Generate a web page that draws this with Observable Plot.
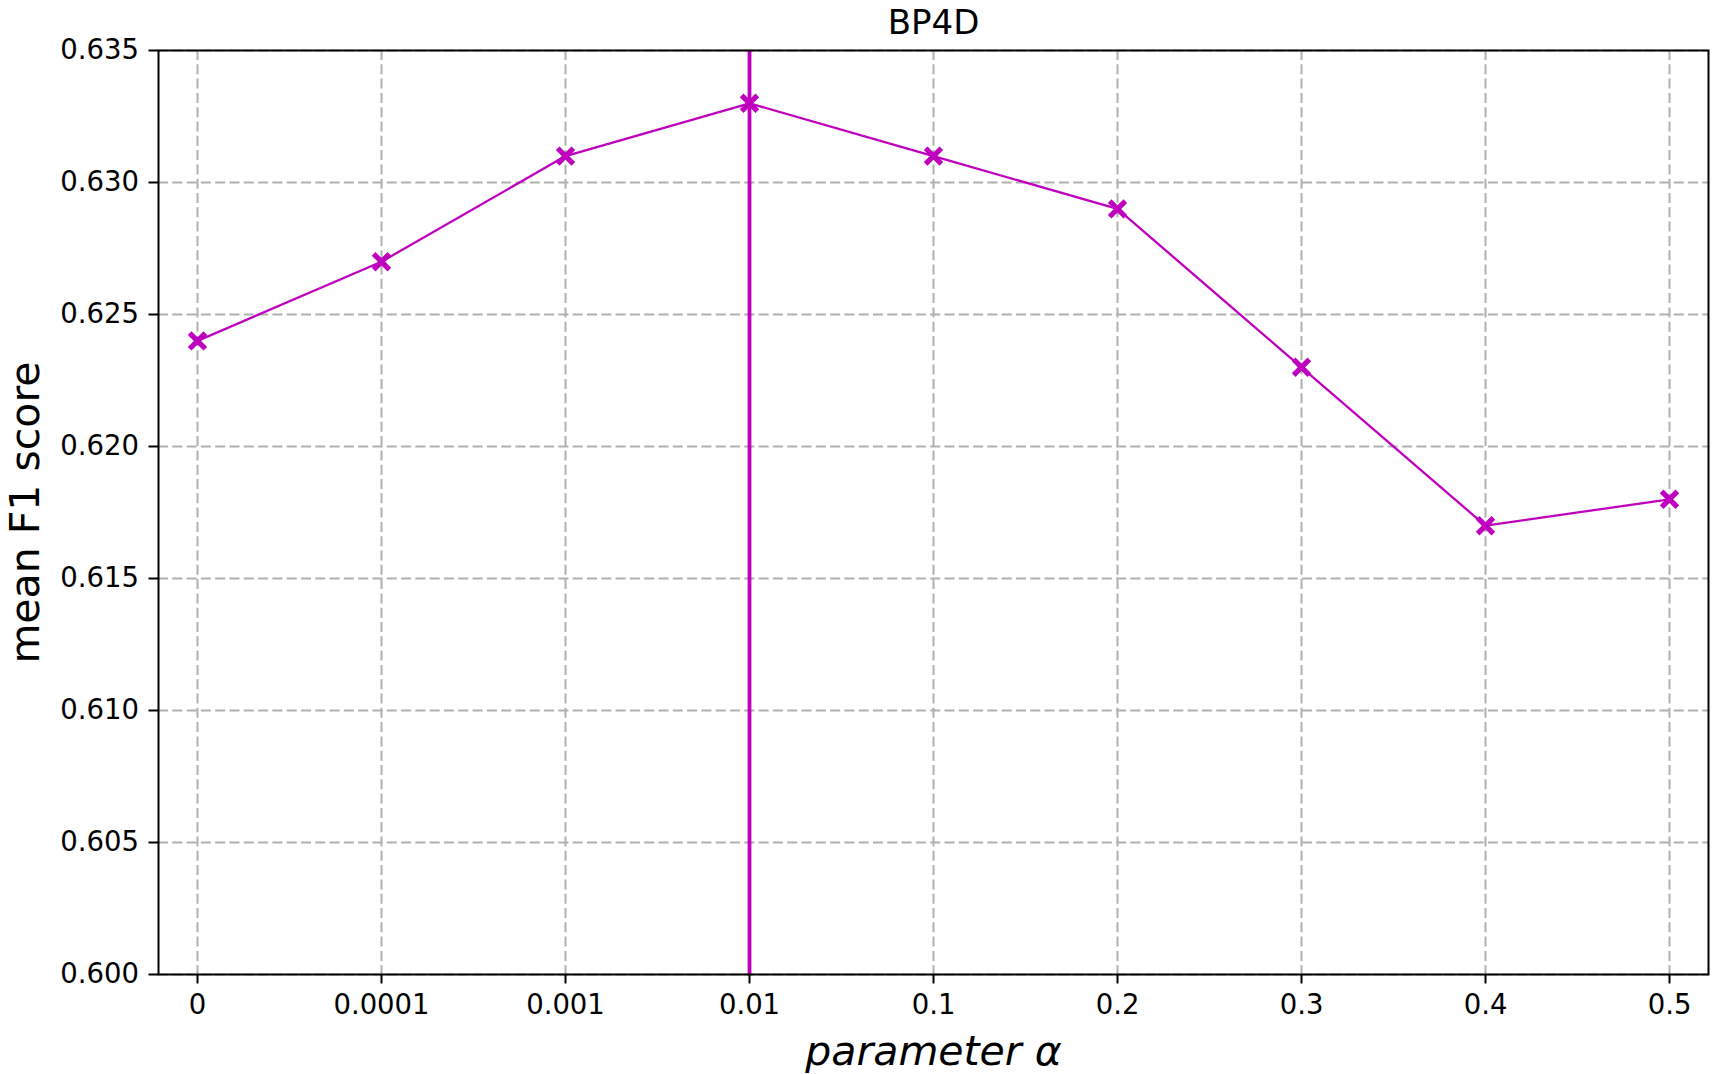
<!DOCTYPE html>
<html><head><meta charset="utf-8">
<script src="https://cdn.jsdelivr.net/npm/d3@7"></script>
<script src="https://cdn.jsdelivr.net/npm/@observablehq/plot@0.6"></script>
<style>body{margin:0;background:#fff;} svg{display:block}</style>
</head><body><div id="chart"></div>
<script>
const alphas = ["0", "0.0001", "0.001", "0.01", "0.1", "0.2", "0.3", "0.4", "0.5"];
const f1 = [0.624, 0.627, 0.631, 0.633, 0.631, 0.629, 0.623, 0.617, 0.618];
const yTicks = [0.600, 0.605, 0.610, 0.615, 0.620, 0.625, 0.630, 0.635];
const highlight = ["0.01"];
const titleText = ["BP4D"];
const xLabel = ["parameter α"];
const yLabel = ["mean F1 score"];

const data = alphas.map((a, i) => ({alpha: a, f1: f1[i]}));
const magenta = "#bf00bf";
const grid = {stroke: "#b0b0b0", strokeOpacity: 1, strokeWidth: 2, strokeDasharray: "10,4.3"};

const chart = Plot.plot({
  width: 1716, height: 1074,
  marginLeft: 158, marginRight: 8, marginTop: 50, marginBottom: 100,
  style: {fontFamily: "DejaVu Sans", background: "white", color: "black"},
  x: {type: "point", domain: alphas, padding: 0.2},
  y: {domain: [0.600, 0.635]},
  marks: [
    Plot.gridX(alphas, grid),
    Plot.gridY(yTicks, grid),
    Plot.ruleX(highlight, {stroke: magenta, strokeWidth: 3.8}),
    Plot.line(data, {x: "alpha", y: "f1", stroke: magenta, strokeWidth: 2.3}),
    Plot.dot(data, {x: "alpha", y: "f1", symbol: "times", r: 7.2, stroke: magenta, strokeWidth: 5.2}),
    Plot.frame({stroke: "black", strokeWidth: 2}),
    Plot.axisX(alphas, {tickSize: 9.5, tickPadding: 10, fontSize: 27.5, label: null, stroke: "black", strokeWidth: 2}),
    Plot.axisY(yTicks, {tickSize: 9.5, tickPadding: 10, fontSize: 27.5, label: null, tickFormat: ".3f", stroke: "black", strokeWidth: 2}),
    Plot.text(titleText, {frameAnchor: "top", lineAnchor: "bottom", dy: -17, fontSize: 34, fill: "black"}),
    Plot.text(xLabel, {frameAnchor: "bottom", lineAnchor: "bottom", dy: 90, fontSize: 41, fontStyle: "italic", fill: "black"}),
    Plot.text(yLabel, {frameAnchor: "left", rotate: -90, textAnchor: "middle", lineAnchor: "bottom", dx: -120, fontSize: 41, fill: "black"})
  ]
});
document.getElementById("chart").appendChild(chart);
</script>
</body></html>
